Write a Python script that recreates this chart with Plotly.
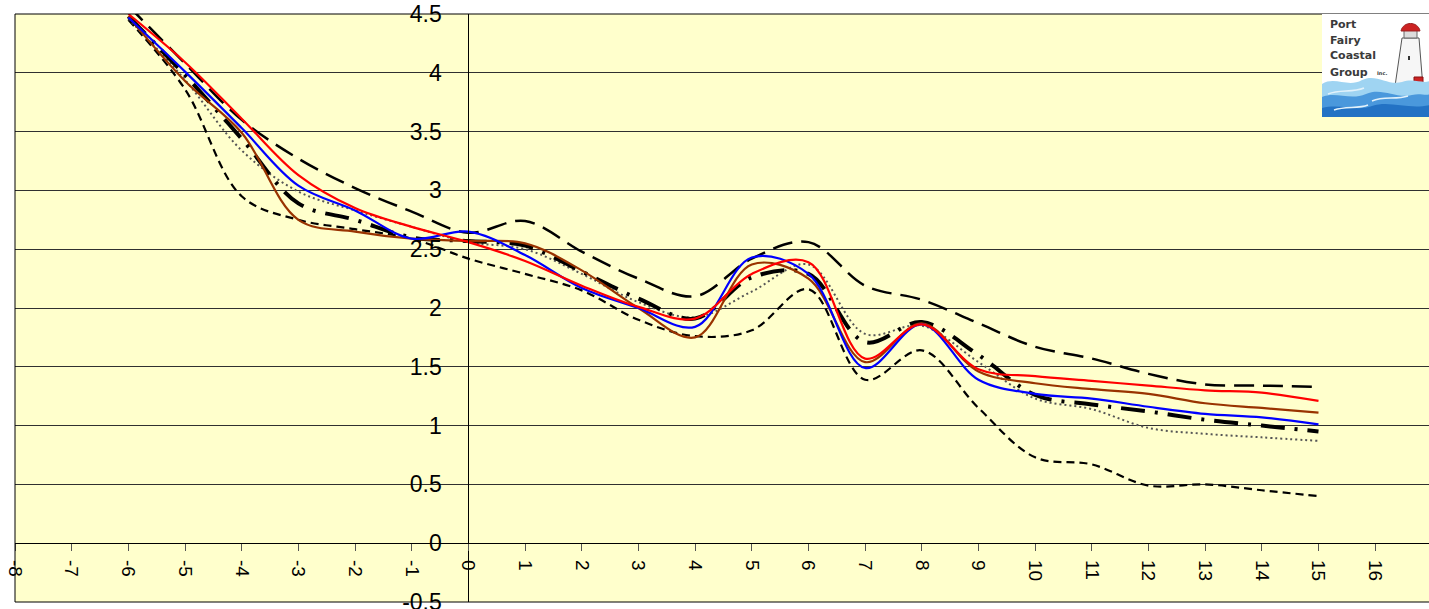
import plotly.graph_objects as go

# ---------------- data ----------------
X = list(range(-6, 16))

upper_envelope = [4.57, 4.08, 3.60, 3.27, 3.02, 2.82, 2.64, 2.74, 2.48, 2.25, 2.10,
                  2.42, 2.56, 2.19, 2.07, 1.87, 1.67, 1.57, 1.44, 1.35, 1.34, 1.33]
lower_envelope = [4.45, 3.86, 2.95, 2.75, 2.67, 2.59, 2.42, 2.29, 2.15, 1.90, 1.76,
                  1.81, 2.16, 1.39, 1.64, 1.15, 0.73, 0.67, 0.49, 0.50, 0.45, 0.40]
dash_dot_series = [4.48, 3.98, 3.44, 2.89, 2.75, 2.60, 2.57, 2.53, 2.31, 2.08, 1.91,
                   2.26, 2.29, 1.71, 1.88, 1.60, 1.26, 1.18, 1.12, 1.05, 1.00, 0.95]
dotted_series = [4.46, 3.94, 3.34, 2.99, 2.83, 2.69, 2.56, 2.50, 2.29, 2.05, 1.92,
                 2.14, 2.37, 1.78, 1.85, 1.54, 1.23, 1.14, 0.98, 0.93, 0.90, 0.87]
brown_series = [4.48, 3.93, 3.49, 2.75, 2.65, 2.59, 2.57, 2.55, 2.32, 2.00, 1.75,
                2.37, 2.25, 1.54, 1.87, 1.46, 1.36, 1.31, 1.27, 1.19, 1.15, 1.11]
blue_series = [4.47, 4.01, 3.53, 3.04, 2.83, 2.59, 2.65, 2.45, 2.17, 2.00, 1.84,
               2.43, 2.29, 1.49, 1.86, 1.39, 1.27, 1.23, 1.16, 1.10, 1.07, 1.01]
red_series = [4.50, 4.09, 3.61, 3.13, 2.85, 2.69, 2.56, 2.40, 2.19, 2.01, 1.91,
              2.29, 2.39, 1.57, 1.86, 1.48, 1.42, 1.38, 1.34, 1.30, 1.28, 1.21]

x_ticks = list(range(-8, 17))
x_tick_labels = [str(v) for v in x_ticks]
y_ticks = [-0.5, 0, 0.5, 1, 1.5, 2, 2.5, 3, 3.5, 4, 4.5]
y_tick_labels = ["-0.5", "0", "0.5", "1", "1.5", "2", "2.5", "3", "3.5", "4", "4.5"]

logo_lines = ["Port", "Fairy", "Coastal", "Group"]

# ---------------- figure ----------------
W, H = 1429, 609
L, T, PW, PH = 15, 14, 1414, 588
X_MIN, X_MAX = -8, 16.95
Y_MIN, Y_MAX = -0.5, 4.5
FONT = "Liberation Sans, Arial, sans-serif"

fig = go.Figure()


def add_line(values, color, width, dash):
    fig.add_trace(go.Scatter(
        x=X, y=values, mode="lines", showlegend=False, hoverinfo="skip",
        line=dict(color=color, width=width, dash=dash, shape="spline", smoothing=1.0)))


add_line(upper_envelope, "black", 2.5, "20px,9px")
add_line(lower_envelope, "black", 2.2, "8px,5px")
add_line(dotted_series, "#555555", 2, "2px,3px")
add_line(dash_dot_series, "black", 4, "24px,10px,3px,10px")
add_line(brown_series, "#993300", 2.2, "solid")
add_line(blue_series, "#0000FF", 2.2, "solid")
add_line(red_series, "#FF0000", 2.2, "solid")


# ---------------- helpers for pixel -> paper ----------------
def px(xp):
    return (xp - L) / PW


def py(yp):
    return (T + PH - yp) / PH


def path(cmds):
    out = []
    for c, pts in cmds:
        if c == "Z":
            out.append("Z")
            continue
        out.append(c + " " + " ".join(f"{px(a):.5f},{py(b):.5f}" for a, b in pts))
    return " ".join(out)


shapes = []
# plot border (left, top, bottom)
for x0, y0, x1, y1 in [(0, 0, 0, 1), (0, 1, 1, 1), (0, 0, 1, 0)]:
    shapes.append(dict(type="line", xref="paper", yref="paper", x0=x0, y0=y0, x1=x1, y1=y1,
                       line=dict(color="black", width=1), layer="above"))

# ---------------- logo ----------------
LX0, LY0, LX1, LY1 = 1322, 14, 1430, 117
shapes.append(dict(type="rect", xref="paper", yref="paper", x0=px(LX0), x1=px(LX1),
                   y0=py(LY1), y1=py(LY0), fillcolor="white", line=dict(width=0), layer="above"))
# lighthouse tower
shapes.append(dict(type="path", xref="paper", yref="paper", layer="above",
                   path=path([("M", [(1402, 38)]), ("L", [(1419, 38)]), ("L", [(1424, 100)]),
                              ("L", [(1393, 100)]), ("Z", [])]),
                   fillcolor="#f6f6f6", line=dict(color="#555555", width=1)))
# lantern
shapes.append(dict(type="rect", xref="paper", yref="paper", layer="above",
                   x0=px(1404), x1=px(1417), y0=py(38), y1=py(30),
                   fillcolor="#dcdcdc", line=dict(color="#666666", width=1)))
# red dome
shapes.append(dict(type="path", xref="paper", yref="paper", layer="above",
                   path=path([("M", [(1401, 31)]), ("C", [(1403, 21), (1418, 21), (1420, 31)]), ("Z", [])]),
                   fillcolor="#cc2222", line=dict(color="#992222", width=1)))
# window
shapes.append(dict(type="rect", xref="paper", yref="paper", layer="above",
                   x0=px(1408), x1=px(1410), y0=py(60), y1=py(56),
                   fillcolor="#333333", line=dict(width=0)))
# red building at the base
shapes.append(dict(type="rect", xref="paper", yref="paper", layer="above",
                   x0=px(1414), x1=px(1423), y0=py(91), y1=py(77),
                   fillcolor="#cc2222", line=dict(color="#881111", width=1)))
# waves
shapes.append(dict(type="path", xref="paper", yref="paper", layer="above",
                   path=path([("M", [(1322, 84)]),
                              ("C", [(1335, 76), (1348, 88), (1362, 80)]),
                              ("C", [(1376, 73), (1388, 86), (1402, 82)]),
                              ("C", [(1414, 78), (1422, 84), (1430, 81)]),
                              ("L", [(1430, 117)]), ("L", [(1322, 117)]), ("Z", [])]),
                   fillcolor="#9fd4f2", line=dict(width=0)))
shapes.append(dict(type="path", xref="paper", yref="paper", layer="above",
                   path=path([("M", [(1322, 97)]),
                              ("C", [(1336, 91), (1350, 101), (1366, 94)]),
                              ("C", [(1382, 87), (1396, 99), (1412, 95)]),
                              ("C", [(1420, 93), (1426, 96), (1430, 94)]),
                              ("L", [(1430, 117)]), ("L", [(1322, 117)]), ("Z", [])]),
                   fillcolor="#4a98dc", line=dict(width=0)))
shapes.append(dict(type="path", xref="paper", yref="paper", layer="above",
                   path=path([("M", [(1322, 108)]),
                              ("C", [(1340, 103), (1356, 112), (1372, 106)]),
                              ("C", [(1390, 100), (1408, 110), (1430, 105)]),
                              ("L", [(1430, 117)]), ("L", [(1322, 117)]), ("Z", [])]),
                   fillcolor="#2372c4", line=dict(width=0)))
# light streaks on the water
for pts in [[(1328, 94), (1340, 89), (1352, 93), (1364, 88)],
            [(1372, 101), (1384, 96), (1396, 100), (1408, 96)],
            [(1334, 110), (1346, 106), (1358, 109), (1368, 105)]]:
    shapes.append(dict(type="path", xref="paper", yref="paper", layer="above",
                       path=path([("M", [pts[0]]), ("C", pts[1:])]),
                       line=dict(color="#e2f2fb", width=1.5)))

annotations = []
for i, txt in enumerate(logo_lines):
    annotations.append(dict(xref="paper", yref="paper", x=px(1328), y=py(24 + i * 16),
                            xanchor="left", yanchor="middle", showarrow=False, text="<b>" + txt + "</b>",
                            font=dict(family="DejaVu Sans, Verdana, sans-serif", size=11, color="#3a3a3a")))
annotations.append(dict(xref="paper", yref="paper", x=px(1375), y=py(73),
                        xanchor="left", yanchor="middle", showarrow=False, text="<b>Inc.</b>",
                        font=dict(family="DejaVu Sans, sans-serif", size=5, color="#3a3a3a")))

fig.update_layout(
    width=W, height=H,
    margin=dict(l=L, r=W - L - PW, t=T, b=H - T - PH, pad=0, autoexpand=False),
    paper_bgcolor="white", plot_bgcolor="#FFFFCC",
    showlegend=False,
    xaxis=dict(range=[X_MIN, X_MAX], tickmode="array", tickvals=x_ticks, ticktext=x_tick_labels,
               tickangle=90, ticks="outside", ticklen=7, tickcolor="#555555", tickwidth=1,
               showgrid=False, zeroline=False, showline=True, linecolor="black", linewidth=1,
               anchor="free", position=(0 - Y_MIN) / (Y_MAX - Y_MIN),
               tickfont=dict(family=FONT, size=19, color="black"), ticklabelstandoff=5),
    yaxis=dict(range=[Y_MIN, Y_MAX], tickmode="array", tickvals=y_ticks, ticktext=y_tick_labels,
               showgrid=True, gridcolor="#303030", gridwidth=1, zeroline=False,
               showline=True, linecolor="black", linewidth=1, ticks="",
               anchor="free", position=(0 - X_MIN) / (X_MAX - X_MIN),
               ticklabeloverflow="allow",
               tickfont=dict(family=FONT, size=23, color="black"), ticklabelstandoff=22),
    shapes=shapes, annotations=annotations,
)

fig.write_html("out.html", config={"displayModeBar": False},
               post_script="document.body.style.margin='0';document.body.style.overflow='hidden';")
